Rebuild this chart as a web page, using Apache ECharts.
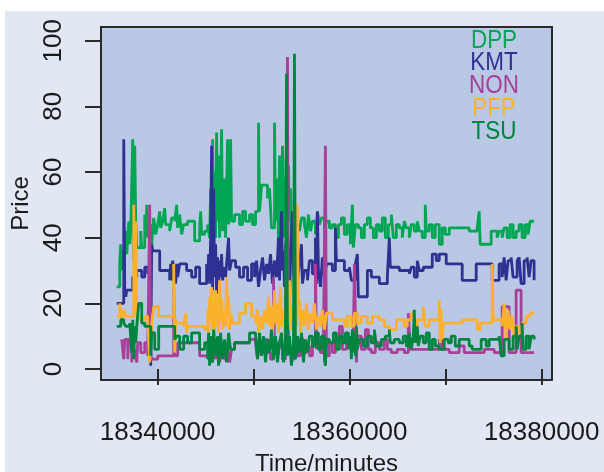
<!DOCTYPE html>
<html>
<head>
<meta charset="utf-8">
<script src="https://cdn.jsdelivr.net/npm/echarts@6/dist/echarts.min.js"></script>
<style>
  html, body { margin: 0; padding: 0; background: #ffffff; }
  #chart { width: 604px; height: 472px; }
</style>
</head>
<body>
<div id="chart"></div>
<script>
// Party share prices over time (minutes), drawn as step lines.
const parties = ['DPP', 'KMT', 'NON', 'PFP', 'TSU'];
const partyColors = ['#00a651', '#2e3192', '#a83f98', '#fbb02e', '#00853f'];

const xTicks = [18340000, 18350000, 18360000, 18370000, 18380000];
const xTickLabels = [18340000, 18360000, 18380000];
const yTicks = [0, 20, 40, 60, 80, 100];

const dpp = [
  [18335736,25],[18336048,33],[18336152,38],[18336256,30],[18336360,36],[18336464,32],
  [18336672,42],[18336776,35],[18336880,40],[18336984,45],[18337088,38],[18337192,42],
  [18337400,70],[18337504,33],[18337608,68],[18337712,45],[18337816,37],[18338232,42],
  [18338336,37],[18338648,47],[18338752,40],[18338856,50],[18338960,44],[18339064,40],
  [18339272,44],[18339376,38],[18339584,46],[18339792,41],[18340000,44],[18340208,48],
  [18340312,43],[18340520,45],[18340728,49],[18340832,44],[18341248,42],[18341456,46],
  [18341768,45],[18341976,50],[18342080,43],[18342288,47],[18342496,41],[18342704,44],
  [18343120,45],[18343848,39],[18344368,43],[18344472,48],[18344576,41],[18344888,42],
  [18345200,44],[18345408,40],[18345512,55],[18345616,38],[18345720,70],[18345824,42],
  [18345928,60],[18346032,40],[18346136,72],[18346240,45],[18346344,65],[18346448,40],
  [18346552,55],[18346656,73],[18346760,42],[18346968,58],[18347072,40],[18347280,70],
  [18347384,44],[18347488,50],[18347592,70],[18347696,45],[18348008,47],[18348528,44],
  [18348840,48],[18349152,45],[18349568,47],[18349880,44],[18350192,48],[18350504,75],
  [18350608,48],[18350816,56],[18351440,52],[18351648,55],[18351856,43],[18352168,75],
  [18352272,45],[18352480,58],[18352584,38],[18352688,65],[18352792,42],[18352896,52],
  [18353000,68],[18353104,40],[18353208,58],[18353312,45],[18353416,70],[18353520,42],
  [18353624,62],[18353728,45],[18353832,55],[18353936,40],[18354144,48],[18354352,40],
  [18354560,44],[18354768,42],[18354976,46],[18355288,44],[18355496,40],[18355704,47],
  [18355912,42],[18356120,45],[18356432,41],[18356640,48],[18356848,44],[18357056,46],
  [18357368,42],[18357576,45],[18357888,43],[18358200,44],[18358512,40],[18358824,44],
  [18359136,46],[18359448,41],[18359760,44],[18360072,38],[18360280,50],[18360384,37],
  [18360592,44],[18360904,43],[18361216,40],[18361528,44],[18361840,46],[18362152,43],
  [18362464,40],[18362776,44],[18363088,42],[18363400,46],[18363712,40],[18364024,44],
  [18364336,47],[18364544,40],[18364856,44],[18365168,43],[18365480,40],[18365688,45],
  [18365896,43],[18366208,40],[18366416,44],[18366728,42],[18367040,45],[18367248,42],
  [18367560,40],[18367872,50],[18367976,42],[18368288,44],[18368600,40],[18368912,44],
  [18369328,38],[18369640,43],[18369952,41],[18370368,43],[18372448,42],[18373280,43],
  [18373488,48],[18373592,38],[18374736,42],[18375360,40],[18375568,42],[18375880,40],
  [18376088,43],[18376400,40],[18376712,44],[18377024,40],[18377336,42],[18377648,44],
  [18377960,40],[18378272,44],[18378584,41],[18378792,45],[18379208,45]
];

const kmt = [
  [18335736,20],[18336464,70],[18336568,24],[18336672,22],[18336776,24],[18337400,28],
  [18337816,30],[18338336,28],[18338648,31],[18338960,29],[18339168,30],[18339272,1],
  [18339376,38],[18339480,36],[18340208,30],[18341248,27],[18341352,32],[18341456,27],
  [18341560,33],[18341664,28],[18341768,31],[18341872,26],[18341976,32],[18342080,28],
  [18342288,32],[18343016,30],[18343536,28],[18343952,31],[18344368,26],[18345096,32],
  [18345200,27],[18345304,35],[18345408,26],[18345512,40],[18345616,68],[18345720,24],
  [18345824,55],[18345928,28],[18346032,38],[18346136,23],[18346240,34],[18346344,26],
  [18346448,33],[18346552,28],[18346656,35],[18346760,27],[18346864,31],[18347072,28],
  [18347176,32],[18347384,40],[18347488,30],[18347696,33],[18348112,31],[18348528,28],
  [18348944,31],[18349360,27],[18349776,32],[18350088,28],[18350296,33],[18350504,25],
  [18350712,30],[18350920,34],[18351128,27],[18351336,32],[18351544,29],[18351752,35],
  [18351960,26],[18352168,33],[18352376,28],[18352584,40],[18352688,27],[18352896,48],
  [18353000,30],[18353104,36],[18353208,25],[18353312,38],[18353416,28],[18353520,45],
  [18353624,30],[18353728,20],[18353832,34],[18354040,48],[18354144,28],[18354352,33],
  [18354560,27],[18354768,32],[18354976,38],[18355080,26],[18355288,30],[18355600,27],
  [18355808,33],[18356120,29],[18356432,40],[18356536,26],[18356640,48],[18356744,30],
  [18356952,25],[18357160,34],[18357368,28],[18357576,32],[18358200,30],[18358512,43],
  [18358616,33],[18359448,30],[18359968,31],[18360176,27],[18360592,32],[18360800,35],
  [18360904,22],[18361840,30],[18362256,28],[18363088,26],[18363920,28],[18364128,40],
  [18364232,31],[18365168,30],[18366208,29],[18366416,31],[18366728,28],[18367040,33],
  [18367248,30],[18367664,31],[18368600,35],[18369016,33],[18369328,35],[18370056,32],
  [18371720,27],[18373176,32],[18374840,27],[18375568,32],[18375880,28],[18376088,34],
  [18376296,27],[18376504,33],[18376816,34],[18377024,28],[18377440,33],[18377648,34],
  [18377856,26],[18378168,33],[18378480,34],[18378688,28],[18378896,33],[18379208,27]
];

const non = [
  [18336256,9],[18336464,3],[18336568,9],[18336880,3],[18336984,9],[18337296,2],
  [18337400,8],[18337504,4],[18337608,6],[18337816,2],[18337920,8],[18338232,5],
  [18338648,8],[18338960,4],[18339168,50],[18339272,5],[18339376,3],[18340000,4],
  [18341664,25],[18341768,4],[18342080,8],[18344368,4],[18345408,8],[18345616,2],
  [18345824,6],[18346032,3],[18346240,8],[18346448,2],[18346656,5],[18346968,3],
  [18347280,7],[18347488,2],[18347696,6],[18348008,8],[18349568,9],[18350192,8],
  [18350400,3],[18350608,8],[18350816,5],[18351128,9],[18351440,5],[18351752,3],
  [18352064,28],[18352168,8],[18352480,4],[18352688,7],[18353000,3],[18353312,8],
  [18353520,95],[18353624,5],[18353936,3],[18354248,7],[18354560,4],[18354872,9],
  [18355184,5],[18355496,7],[18355808,4],[18356120,8],[18356432,32],[18356536,6],
  [18356744,9],[18356952,5],[18357264,8],[18357472,68],[18357576,4],[18357888,8],
  [18358200,5],[18358512,9],[18358928,13],[18359240,6],[18359656,9],[18360072,6],
  [18360384,10],[18360488,32],[18360696,2],[18360800,10],[18361216,6],[18361632,12],
  [18361944,6],[18362256,5],[18362672,8],[18363088,6],[18363608,9],[18363920,6],
  [18364336,5],[18364960,6],[18365688,5],[18366104,17],[18366312,6],[18369328,9],
  [18369640,6],[18370368,5],[18371408,7],[18371928,5],[18374008,6],[18375048,5],
  [18375880,19],[18376608,5],[18377336,24],[18377856,5],[18379208,5]
];

const pfp = [
  [18335736,16],[18336048,20],[18336256,15],[18336464,18],[18336672,16],[18337504,50],
  [18337608,20],[18337712,45],[18337816,16],[18338128,15],[18338648,16],[18338960,15],
  [18339168,2],[18339376,14],[18339584,19],[18340104,16],[18341664,32],[18341768,5],
  [18341872,15],[18341976,14],[18342704,13],[18342912,17],[18343016,11],[18343120,13],
  [18344888,12],[18345200,18],[18345304,11],[18345408,22],[18345512,14],[18345616,25],
  [18345720,12],[18345824,20],[18345928,10],[18346032,24],[18346136,13],[18346240,19],
  [18346344,11],[18346448,27],[18346552,14],[18346656,21],[18346760,12],[18346864,18],
  [18347072,13],[18347176,28],[18347280,16],[18347384,22],[18347488,12],[18347592,17],
  [18347800,14],[18348528,17],[18349152,20],[18349776,16],[18350192,14],[18350400,18],
  [18350504,11],[18350712,16],[18350920,12],[18351128,18],[18351336,14],[18351544,22],
  [18351648,13],[18351856,19],[18351960,10],[18352168,24],[18352272,14],[18352480,20],
  [18352584,11],[18352792,25],[18352896,13],[18353104,18],[18353208,10],[18353416,22],
  [18353520,14],[18353728,27],[18353832,12],[18354040,19],[18354144,10],[18354352,22],
  [18354456,13],[18354560,50],[18354664,16],[18354768,21],[18354872,11],[18355080,18],
  [18355288,13],[18355496,20],[18355704,12],[18355912,17],[18356120,14],[18356328,20],
  [18356536,12],[18356744,16],[18356952,13],[18357160,18],[18357368,12],[18357576,17],
  [18358200,15],[18359448,13],[18359760,16],[18360176,13],[18360488,17],[18360800,14],
  [18361216,16],[18361840,14],[18362360,16],[18363088,15],[18363608,13],[18364128,12],
  [18364856,15],[18365688,13],[18366000,15],[18366416,17],[18366728,13],[18367040,15],
  [18367664,19],[18367872,13],[18368288,15],[18369328,21],[18369432,8],[18369536,18],
  [18369640,9],[18369744,14],[18371720,15],[18373280,12],[18373592,14],[18374840,32],
  [18374944,15],[18375880,13],[18376088,20],[18376296,9],[18376504,18],[18376712,12],
  [18376920,16],[18377128,10],[18377336,13],[18377648,11],[18377960,14],[18378376,16],
  [18378792,17],[18379208,17]
];

const tsu = [
  [18335736,13],[18336152,15],[18336464,14],[18336672,13],[18337088,14],[18337296,5],
  [18337400,15],[18337504,3],[18337608,13],[18337712,8],[18337816,13],[18338024,20],
  [18338336,14],[18338648,13],[18339272,4],[18339376,11],[18339688,6],[18340104,13],
  [18341768,9],[18341976,10],[18342288,6],[18342704,10],[18343120,8],[18343536,11],
  [18344368,6],[18344888,8],[18345200,3],[18345304,11],[18345408,1],[18345616,10],
  [18345720,2],[18345824,12],[18346032,4],[18346240,10],[18346344,1],[18346552,11],
  [18346760,3],[18346968,9],[18347176,2],[18347384,11],[18347592,6],[18348008,8],
  [18349568,11],[18350192,10],[18350400,3],[18350608,11],[18350816,4],[18351024,10],
  [18351232,2],[18351440,9],[18351648,5],[18351856,12],[18352064,3],[18352272,10],
  [18352480,2],[18352688,8],[18352896,11],[18353104,2],[18353312,9],[18353416,90],
  [18353520,4],[18353728,10],[18353936,1],[18354144,8],[18354248,96],[18354352,3],
  [18354560,10],[18354768,5],[18354976,11],[18355184,2],[18355392,9],[18355600,5],
  [18355808,10],[18356120,7],[18356432,11],[18356744,6],[18357056,10],[18357368,3],
  [18357472,1],[18357576,9],[18357888,8],[18358304,11],[18358616,6],[18358928,10],
  [18359240,8],[18359552,11],[18359864,6],[18360072,10],[18360176,3],[18360280,12],
  [18360384,5],[18360488,11],[18360592,4],[18360696,13],[18360800,6],[18361008,9],
  [18361424,7],[18361840,10],[18362256,8],[18362568,12],[18362776,7],[18363296,9],
  [18363712,10],[18364128,12],[18364232,8],[18364648,9],[18365168,8],[18365584,10],
  [18365896,7],[18366208,11],[18366416,6],[18366624,10],[18366728,18],[18366832,8],
  [18367040,13],[18367144,7],[18367352,10],[18367664,8],[18367976,11],[18368288,6],
  [18368600,9],[18368912,7],[18369328,6],[18369848,9],[18370264,8],[18370576,10],
  [18370992,7],[18371408,9],[18372448,7],[18372760,6],[18373696,9],[18374216,7],
  [18374528,9],[18375568,10],[18375776,4],[18376088,9],[18376608,6],[18377024,10],
  [18377336,13],[18377440,6],[18377648,10],[18377960,14],[18378064,6],[18378376,10],
  [18378688,6],[18378896,10],[18379208,9]
];

const seriesData = [dpp, kmt, non, pfp, tsu];

const chart = echarts.init(document.getElementById('chart'), null, { renderer: 'canvas' });

const textColor = '#1a1a1a';
const fontFamily = '"Liberation Sans", Arial, Helvetica, sans-serif';

// Legend: coloured party names stacked in the top-right corner of the panel
const legendTexts = parties.map((name, i) => ({
  type: 'text',
  x: 494,
  y: 40.5 + i * 22.9,
  scaleX: 0.88,
  originX: 0,
  originY: 0,
  z: 100,
  style: {
    text: name,
    fill: partyColors[i],
    font: '25.5px ' + fontFamily,
    align: 'center',
    verticalAlign: 'middle'
  }
}));

chart.setOption({
  animation: false,
  backgroundColor: '#e1e8f4',
  textStyle: { fontFamily: fontFamily },
  graphic: [
    { type: 'rect', shape: { x: 0, y: 0, width: 604, height: 11 }, style: { fill: '#ffffff' }, z: -1 },
    { type: 'rect', shape: { x: 0, y: 0, width: 5, height: 472 }, style: { fill: '#ffffff' }, z: -1 }
  ].concat(legendTexts),
  grid: {
    left: 101, top: 27, width: 451, height: 353,
    containLabel: false,
    outerBoundsMode: 'none',
    show: true,
    backgroundColor: '#b9c8e4',
    borderColor: '#2a2a2a',
    borderWidth: 2
  },
  xAxis: {
    type: 'value',
    min: 18334094,
    max: 18381073,
    splitLine: { show: false },
    axisLine: { show: false },
    axisTick: {
      show: true, length: 16, inside: false,
      customValues: xTicks,
      lineStyle: { color: '#2a2a2a', width: 2 }
    },
    axisLabel: {
      customValues: xTickLabels,
      color: textColor, fontSize: 26, margin: 40,
      formatter: v => String(v)
    },
    name: 'Time/minutes',
    nameLocation: 'middle',
    nameGap: 72,
    nameTextStyle: { color: textColor, fontSize: 24 }
  },
  yAxis: {
    type: 'value',
    min: -3.35,
    max: 104.17,
    splitLine: { show: false },
    axisLine: { show: false },
    axisTick: {
      show: true, length: 16, inside: false,
      customValues: yTicks,
      lineStyle: { color: '#2a2a2a', width: 2 }
    },
    axisLabel: {
      customValues: yTicks,
      rotate: 90,
      color: textColor, fontSize: 26, margin: 34,
      formatter: v => String(v)
    },
    name: 'Price',
    nameLocation: 'middle',
    nameRotate: 90,
    nameGap: 66,
    nameTextStyle: { color: textColor, fontSize: 24 }
  },
  series: seriesData.map((data, i) => ({
    name: parties[i],
    type: 'line',
    step: 'end',
    data: data,
    showSymbol: false,
    symbol: 'none',
    clip: true,
    z: 2 + i,
    lineStyle: { color: partyColors[i], width: 2.8 }
  }))
});
</script>
</body>
</html>
